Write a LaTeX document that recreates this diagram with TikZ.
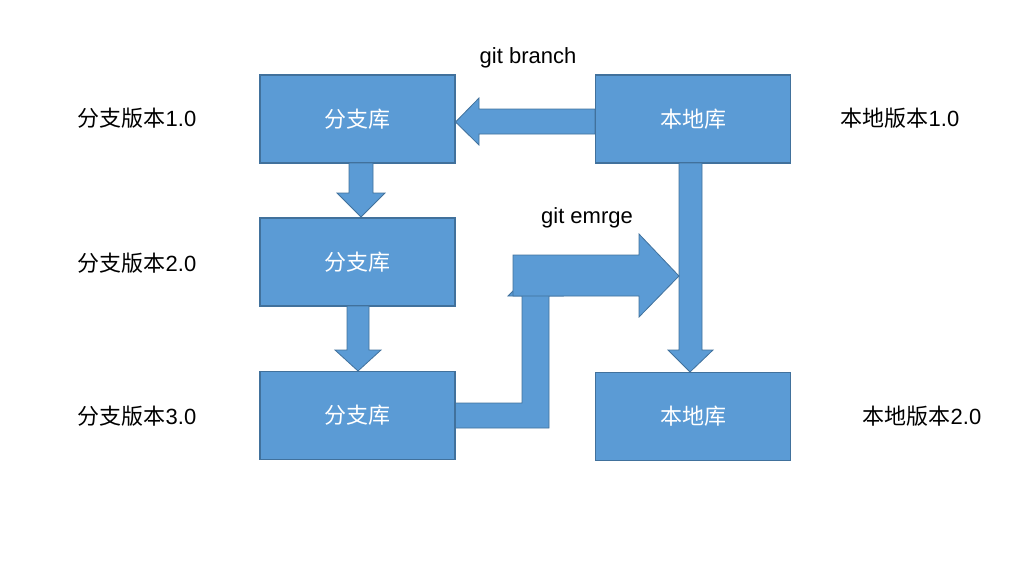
\documentclass[tikz,border=0pt]{standalone}
\usepackage{fontspec}
\setmainfont{Liberation Sans}
\newfontfamily\cjk{Noto Sans CJK SC}
\definecolor{boxfill}{HTML}{5B9BD5}
\definecolor{boxline}{HTML}{41719C}
\begin{document}
\begin{tikzpicture}[x=0.75pt,y=-0.75pt,
  repo/.style={draw=boxline,fill=boxfill,line width=0.8pt,minimum width=146.25pt,minimum height=66pt,inner sep=0pt,text=white,font=\fontsize{16.5}{18}\selectfont\cjk},
  blockarrow/.style={draw=boxline,fill=boxfill,line width=0.6pt,line join=miter},
  lbl/.style={font=\fontsize{16.5}{18}\selectfont,inner sep=0pt}]
\useasboundingbox (0,0) rectangle (1028,572);
% boxes
\node[repo] (B1) at (357.5,119) {分支库};
\node[repo] (B2) at (357.5,262) {分支库};
\node[repo] (B3) at (357.5,415.5) {分支库};
\node[repo] (L1) at (693,119) {本地库};
\node[repo] (L2) at (693,416.5) {本地库};
% git branch arrow L1 -> B1
\draw[blockarrow] (L1.west |- 0,109) -- (479,109) -- (479,98) -- (B1.east |- 0,122) -- (479,145) -- (479,134) -- (L1.west |- 0,134) -- cycle;
% B1 -> B2
\draw[blockarrow] (349,163) -- (349,193) -- (337,193) -- (361,217) -- (385,193) -- (373,193) -- (373,163) -- cycle;
% B2 -> B3
\draw[blockarrow] (347,306) -- (347,350) -- (335,350) -- (358,371) -- (381,350) -- (369,350) -- (369,306) -- cycle;
% L1 -> L2
\draw[blockarrow] (679,163) -- (679,350) -- (668,350) -- (690,372) -- (713,350) -- (702,350) -- (702,163) -- cycle;
% bent arrow from B3 (head hidden under merge arrow)
\draw[blockarrow] (B3.east |- 0,403) -- (522,403) -- (522,296) -- (508,296) -- (535.5,268) -- (563,296) -- (549,296) -- (549,428) -- (B3.east |- 0,428) -- cycle;
% git merge arrow
\draw[blockarrow] (513,255) -- (639,255) -- (639,234) -- (679,276) -- (639,317) -- (639,296) -- (513,296) -- cycle;
% labels
\node[lbl] (gb) at (528,57.5) {git branch};
\node[lbl] (gm) at (587,218) {git emrge};
\node[lbl] (v1) at (137,118) {{\cjk 分支版本}1.0};
\node[lbl] (v2) at (137,263) {{\cjk 分支版本}2.0};
\node[lbl] (v3) at (137,416) {{\cjk 分支版本}3.0};
\node[lbl] (w1) at (900,118) {{\cjk 本地版本}1.0};
\node[lbl] (w2) at (922,416) {{\cjk 本地版本}2.0};
\end{tikzpicture}
\end{document}
